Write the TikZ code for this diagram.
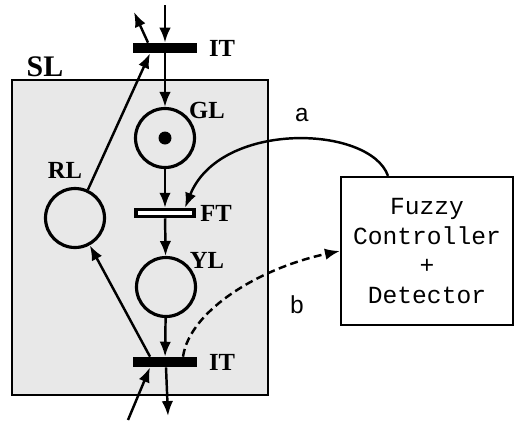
\documentclass[tikz,border=0pt]{standalone}
\usepackage{fontspec}
\setmainfont{Liberation Serif}
\newfontfamily\monofont{Liberation Mono}
\usetikzlibrary{arrows.meta}

\begin{document}
\begin{tikzpicture}[x=0.02cm,y=-0.02cm]
		% Styles
		\tikzstyle{fleche}=[->,>={Latex[length=8.5pt,width=6.5pt]},line width=1.4pt]
		\tikzstyle{pointille}=[fleche,dash pattern=on 4.5pt off 2.5pt]
		\tikzstyle{place}=[circle,draw,line width=1.8pt,minimum size=1.18cm,inner sep=0pt]
		\tikzstyle{jeton}=[circle,fill=black,minimum size=0.26cm,inner sep=0pt]
		\tikzstyle{barre}=[rectangle,fill=black,minimum width=1.3cm,minimum height=0.2cm,inner sep=0pt]
		\tikzstyle{barrecreuse}=[rectangle,fill=white,draw=black,line width=2pt,minimum width=1.16cm,minimum height=0.14cm,inner sep=0pt]
		\tikzstyle{etiquette}=[font=\fontsize{14}{16}\selectfont\bfseries,inner sep=0pt]
		\tikzstyle{texte}=[font=\monofont\fontsize{14}{17}\selectfont,inner sep=0pt]
		\tikzstyle{boite}=[draw,line width=1.3pt,fill=white,align=center,minimum width=3.44cm,minimum height=2.96cm,texte]
		\useasboundingbox (0,0) rectangle (514,420);
		% Zone SL
		\draw[line width=1.3pt,fill=gray!18] (12,80) rectangle (268,395);
		\node[etiquette,font=\fontsize{17}{19}\selectfont\bfseries] (SL) at (45,67) {SL};
		% Noeuds
		\node[barre] (ITh) at (165,48) {};
		\node[place] (GL) at (165,138) {};
		\node[jeton] (tok) at (GL) {};
		\node[barrecreuse] (FT) at (165,213) {};
		\node[place] (YL) at (166,287) {};
		\node[barre] (ITb) at (165,362) {};
		\node[place] (RL) at (75,218) {};
		\node[boite] (FC) at (427,251) {Fuzzy\\Controller\\+\\Detector};
		%
		\node[etiquette] (lITh) at (222,48) {IT};
		\node[etiquette] (lGL) at (207,110) {GL};
		\node[etiquette] (lFT) at (216,213) {FT};
		\node[etiquette] (lYL) at (207,260) {YL};
		\node[etiquette] (lITb) at (222,362) {IT};
		\node[etiquette] (lRL) at (65,170) {RL};
		\node[texte] (la) at (302,115) {a};
		\node[texte] (lb) at (297,305) {b};
		% Extremites libres
		\coordinate (e1) at (165,5);
		\coordinate (s1) at (134,12);
		\coordinate (e2) at (128,420);
		\coordinate (s2) at (168,416);
		% Arcs
		\draw[fleche] (e1)--(ITh.north);
		\draw[fleche] ([xshift=-0.34cm]ITh.north)--(s1);
		\draw[fleche] (ITh)--(GL);
		\draw[fleche] (GL)--(FT);
		\draw[fleche] (FT)--(YL);
		\draw[fleche] (YL)--(ITb);
		\draw[fleche] (RL)--([xshift=-0.3cm]ITh.south);
		\draw[fleche] ([xshift=-0.3cm]ITb.north)--(RL);
		\draw[fleche] (e2)--([xshift=-0.3cm]ITb.south);
		\draw[fleche] ([xshift=0.02cm]ITb.south)--(s2);
		\draw[fleche] ([xshift=-0.78cm]FC.north) .. controls (370,125) and (220,120) .. ([xshift=0.4cm]FT.north);
		\draw[pointille] ([xshift=0.36cm]ITb.north) .. controls (190,310) and (260,268) .. (FC.west);
	\end{tikzpicture}
\end{document}
